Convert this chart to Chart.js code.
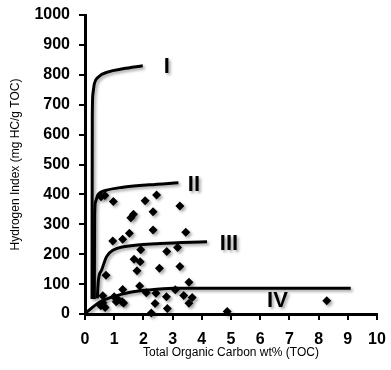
<!DOCTYPE html>
<html>
<head>
<meta charset="utf-8">
<script src="https://cdn.jsdelivr.net/npm/chart.js@4.4.1/dist/chart.umd.min.js"></script>
<style>
  html, body { margin: 0; padding: 0; background: #fff; }
  #wrap { width: 391px; height: 370px; position: relative; }
</style>
</head>
<body>
<div id="wrap"><canvas id="chart"></canvas></div>
<script>
// samples: TOC (wt%) and hydrogen index (mg HC/g TOC)
const sampleToc = [0.55, 0.68, 0.97, 2.06, 2.45, 3.25, 2.33, 1.66, 1.57, 2.33, 1.52, 1.29, 0.95, 3.45,
  1.91, 2.8, 3.17, 1.68, 1.89, 1.78, 2.55, 3.25, 0.72, 1.87, 1.29, 3.56, 0.61, 1.0, 1.12, 1.07,
  1.27, 1.32, 0.61, 0.69, 0.54, 2.1, 2.43, 2.79, 3.09, 3.38, 3.67, 3.56, 2.4, 2.82, 2.27, 4.87, 8.28];
const sampleHi = [392, 396, 376, 379, 398, 361, 342, 334, 322, 281, 270, 250, 244, 273,
  215, 209, 222, 183, 175, 145, 153, 159, 130, 94, 82, 106, 61, 58, 49, 41,
  41, 37, 38, 22, 28, 71, 69, 58, 81, 62, 55, 36, 35, 18, 3, 8, 44];

// kerogen type curves
const curveIToc = [0.24, 0.25, 0.27, 0.32, 0.45, 0.8, 1.3, 1.98];
const curveIHi = [50, 660, 735, 770, 792, 810, 820, 830];
const curveIIToc = [0.32, 0.33, 0.36, 0.45, 0.7, 1.3, 2.2, 3.2];
const curveIIHi = [50, 330, 375, 400, 413, 424, 432, 439];
const curveIIIToc = [0.42, 0.46, 0.57, 0.74, 0.97, 1.32, 2.58, 4.18];
const curveIIIHi = [52, 114, 147, 192, 214, 225, 236, 242];
const curveIVToc = [0.0, 0.52, 0.97, 1.55, 2.12, 3.03, 5.0, 9.1];
const curveIVHi = [2, 41, 58, 73, 80, 86, 86, 86];

const typeLabels = ['I', 'II', 'III', 'IV'];
const typeLabelToc = [2.8, 3.73, 4.93, 6.59];
const typeLabelHi = [826, 433, 234, 43];

const toPoints = (xs, ys) => xs.map((x, i) => ({ x, y: ys[i] }));

const curveDataset = (xs, ys) => ({
  type: 'line',
  data: toPoints(xs, ys),
  borderColor: '#000',
  borderWidth: 3,
  pointRadius: 0,
  fill: false,
  cubicInterpolationMode: 'monotone',
  clip: false
});

const shadowPlugin = {
  id: 'shadow',
  beforeDatasetsDraw(chart) {
    const ctx = chart.ctx;
    ctx.save();
    ctx.shadowColor = 'rgba(0,0,0,0.35)';
    ctx.shadowBlur = 3;
    ctx.shadowOffsetX = 2;
    ctx.shadowOffsetY = 2;
  },
  afterDatasetsDraw(chart) {
    const ctx = chart.ctx;
    ctx.restore();
    const xScale = chart.scales.x;
    const yScale = chart.scales.y;
    ctx.save();
    ctx.font = 'bold 22px "Liberation Sans", Arial, sans-serif';
    ctx.fillStyle = '#000';
    ctx.textAlign = 'center';
    ctx.textBaseline = 'middle';
    ctx.shadowColor = 'rgba(0,0,0,0.35)';
    ctx.shadowBlur = 3;
    ctx.shadowOffsetX = 2;
    ctx.shadowOffsetY = 2;
    typeLabels.forEach((label, i) => {
      ctx.fillText(label, xScale.getPixelForValue(typeLabelToc[i]), yScale.getPixelForValue(typeLabelHi[i]));
    });
    ctx.restore();
  }
};

const tickFont = { family: '"Liberation Sans", Arial, sans-serif', size: 16, weight: 'bold' };
const titleFont = { family: '"Liberation Sans", Arial, sans-serif', size: 12 };

new Chart(document.getElementById('chart'), {
  type: 'scatter',
  data: {
    datasets: [
      curveDataset(curveIToc, curveIHi),
      curveDataset(curveIIToc, curveIIHi),
      curveDataset(curveIIIToc, curveIIIHi),
      curveDataset(curveIVToc, curveIVHi),
      {
        data: toPoints(sampleToc, sampleHi),
        pointStyle: 'rectRot',
        pointRadius: 4.5,
        pointBackgroundColor: '#000',
        pointBorderColor: '#000',
        pointBorderWidth: 0,
        clip: false
      }
    ]
  },
  options: {
    responsive: true,
    maintainAspectRatio: false,
    animation: false,
    layout: { padding: { top: 15, right: 14, left: 0, bottom: 0 } },
    plugins: { legend: { display: false }, tooltip: { enabled: false } },
    scales: {
      x: {
        type: 'linear',
        min: 0,
        max: 10,
        ticks: { stepSize: 1, color: '#000', font: tickFont, padding: 10, maxRotation: 0, callback: v => String(v) },
        grid: { drawOnChartArea: false, drawTicks: true, tickLength: 6, color: '#000', lineWidth: 2 },
        border: { color: '#000', width: 3 },
        title: { display: true, text: 'Total Organic Carbon wt% (TOC)', color: '#000', font: titleFont, padding: { top: 0, bottom: 10 } },
        afterFit(scale) {
          scale.height = 56;
          scale.paddingLeft = 0;
          scale.paddingRight = 0;
        }
      },
      y: {
        type: 'linear',
        min: 0,
        max: 1000,
        ticks: { stepSize: 100, color: '#000', font: tickFont, padding: 9, callback: v => String(v) },
        grid: { drawOnChartArea: false, drawTicks: true, tickLength: 6, color: '#000', lineWidth: 2 },
        border: { color: '#000', width: 3 },
        title: { display: true, text: 'Hydrogen Index (mg HC/g TOC)', color: '#000', font: titleFont, padding: { top: 8, bottom: 0 } },
        afterFit(scale) {
          scale.width = 85;
          scale.paddingTop = 0;
          scale.paddingBottom = 0;
        }
      }
    }
  },
  plugins: [shadowPlugin]
});
</script>
</body>
</html>
